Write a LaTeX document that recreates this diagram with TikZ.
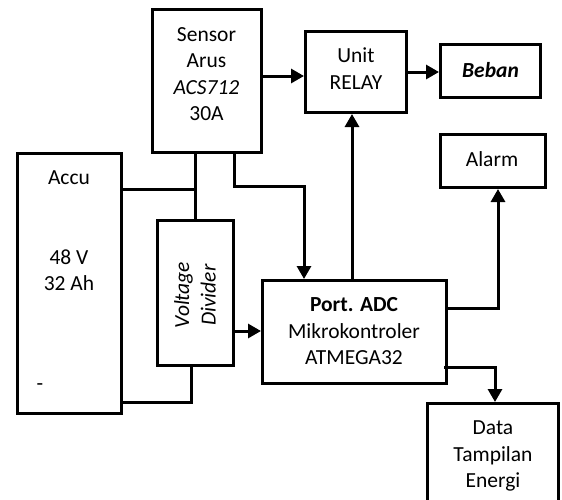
\documentclass[tikz,border=0pt]{standalone}
\usepackage{fontspec}
\setmainfont{Carlito}
\usetikzlibrary{arrows.meta}
\begin{document}
\begin{tikzpicture}[x=1pt,y=-1pt,
  box/.style={draw, line width=3pt, inner sep=0pt},
  txt/.style={align=center, inner sep=0pt, font=\fontsize{21.5}{26.5}\selectfont},
  wire/.style={line width=3pt},
  arr/.style={wire, -{Triangle[length=13pt,width=14pt]}}]
\useasboundingbox (0,0) rectangle (562,499);
\clip (0,0) rectangle (562,499);
\fill[white] (0,0) rectangle (562,499);
% boxes
\node[box, minimum width=109pt, minimum height=143pt] (Sensor) at (206.5,80.5) {};
\node[box, minimum width=104pt, minimum height=260pt] (Accu) at (69.5,283.5) {};
\node[box, minimum width=76pt, minimum height=145pt] (VD) at (195.5,293) {};
\node[box, minimum width=101pt, minimum height=81pt] (Relay) at (356,72) {};
\node[box, minimum width=100pt, minimum height=53pt] (Beban) at (490.5,71) {};
\node[box, minimum width=105pt, minimum height=53pt] (Alarm) at (493,161) {};
\node[box, minimum width=184pt, minimum height=103pt] (Port) at (354.5,332) {};
\node[box, minimum width=131pt, minimum height=120pt] (Data) at (493,463.5) {};
% texts
\node[txt] (tSensor) at (206.5,74) {Sensor\\Arus\\\textit{ACS712}\\30A};
\node[txt] (tRelay) at (356,68.5) {Unit\\RELAY};
\node[txt] (tBeban) at (490.5,70) {\textbf{\textit{Beban}}};
\node[txt] (tAlarm) at (492,159) {Alarm};
\node[txt] (tAccu) at (69,178) {Accu};
\node[txt] (tVolt) at (69,270) {48 V\\32 Ah};
\node[txt] (tMinus) at (40,387) {-};
\node[txt, rotate=90] (tVD) at (195,295) {\textit{Voltage}\\\textit{Divider}};
\node[txt] (tPort) at (354,331.5) {\textbf{Port. ADC}\\Mikrokontroler\\ATMEGA32};
\node[txt] (tData) at (493,456) {Data\\Tampilan\\Energi};
% junction / routing coordinates
\coordinate (jA) at (195,189);
\coordinate (sB) at (234,186.5);
\coordinate (pA) at (304,186.5);
\coordinate (r1) at (0,76);
\coordinate (up) at (352,0);
\coordinate (al) at (498,308);
\coordinate (dt) at (495,367);
\coordinate (vp) at (0,331);
\coordinate (vb) at (191,402);
% connectors
\draw[wire] (Accu.east |- jA) -- (jA);
\draw[wire] (Sensor.south -| jA) -- (VD.north -| jA);
\draw[arr] (Sensor.south -| sB) -- (sB) -- (pA) -- (Port.north -| pA);
\draw[arr] (Sensor.east |- r1) -- (Relay.west |- r1);
\draw[arr] (Relay.east |- Beban.west) ++(0,1) -- (Beban.west |- 0,72);
\draw[arr] (Port.north -| up) -- (Relay.south -| up);
\draw[arr] (Port.east |- al) -- (al) -- (Alarm.south -| al);
\draw[arr] (Port.east |- dt) ++(-4,0) -- (dt) -- (Data.north -| dt);
\draw[arr] (VD.east |- vp) -- (Port.west |- vp);
\draw[wire] (VD.south -| vb) -- (vb) -- (Accu.east |- vb);
\end{tikzpicture}
\end{document}
